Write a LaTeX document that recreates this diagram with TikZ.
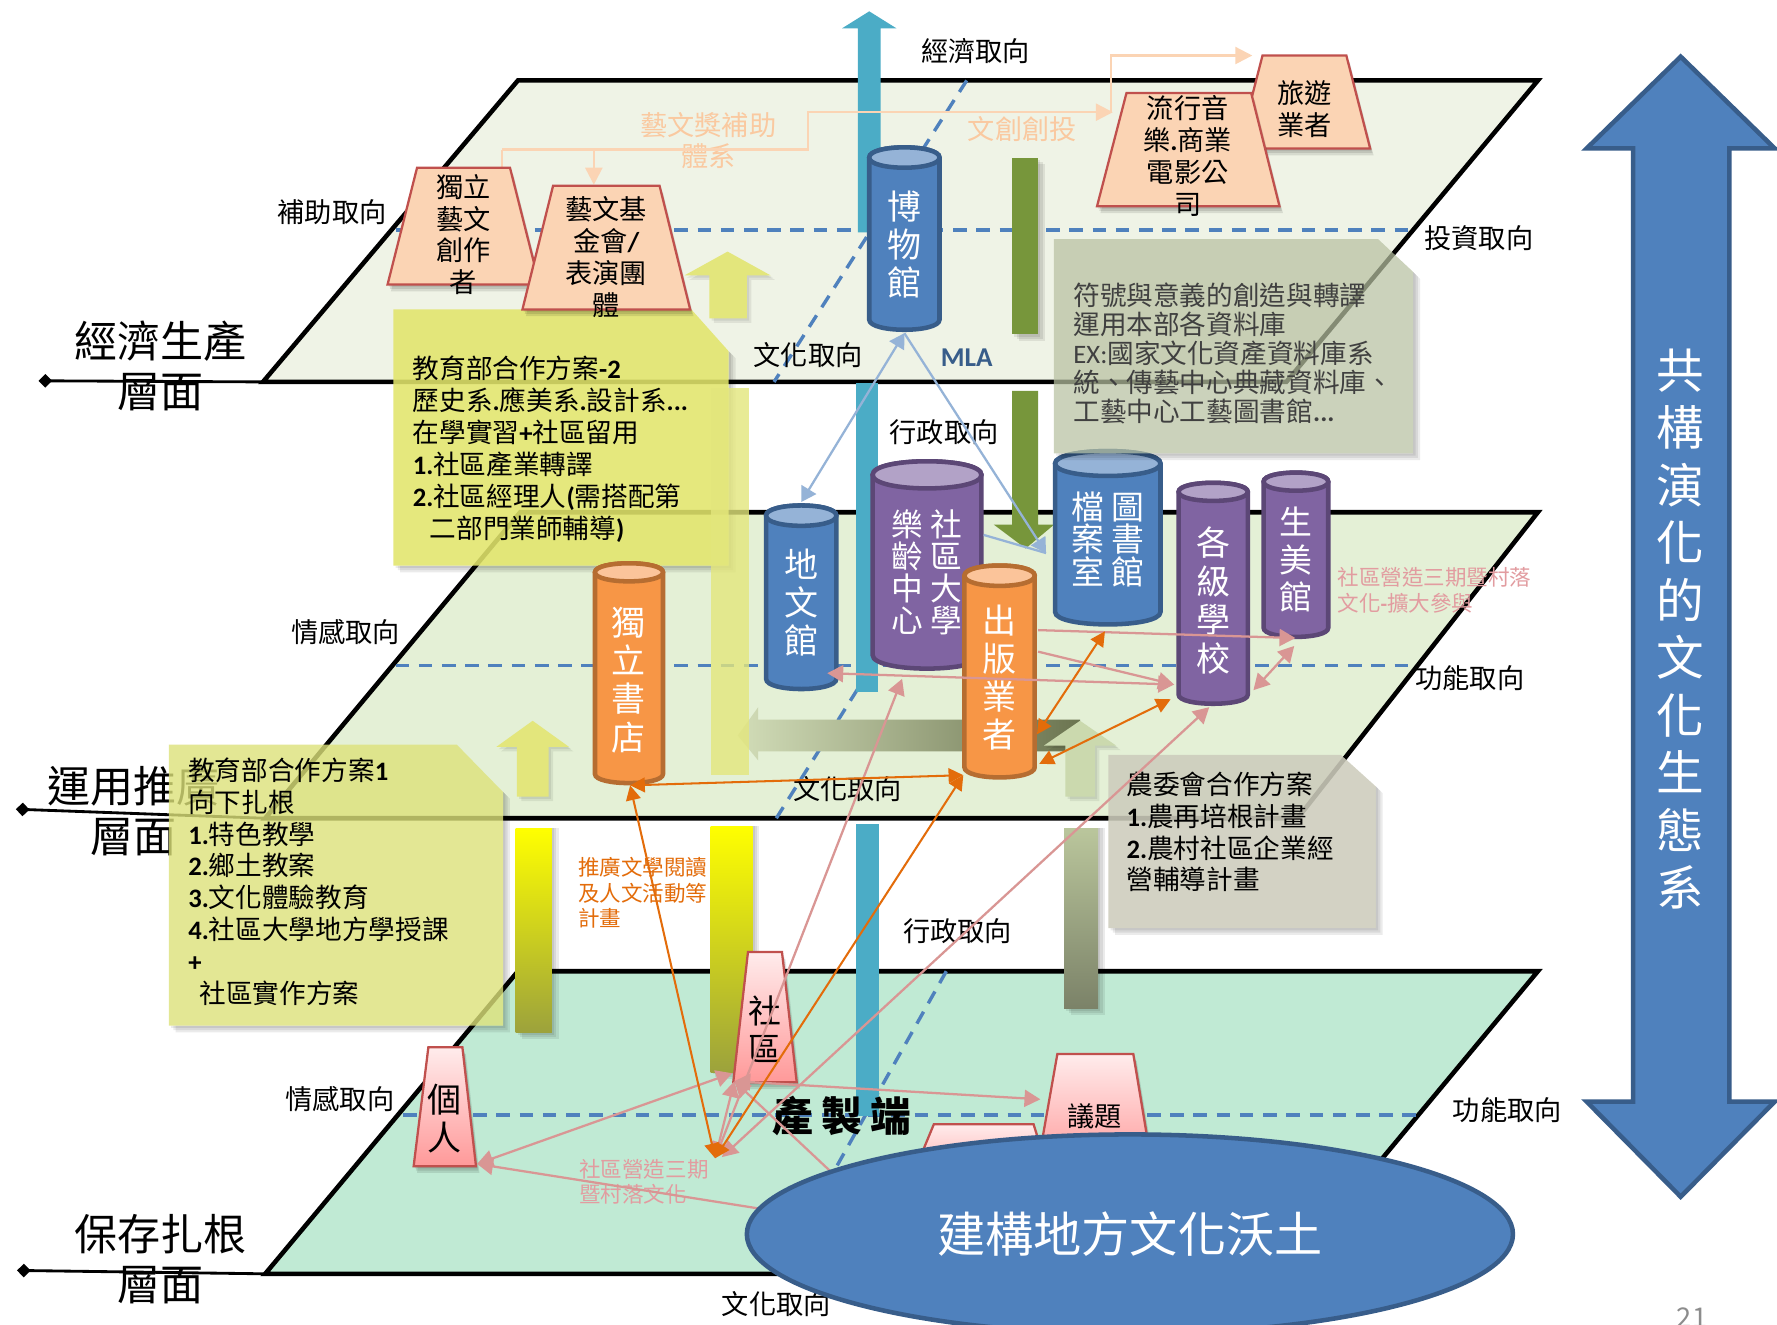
\documentclass[tikz,border=0pt]{standalone}
\usepackage{fontspec}
\setmainfont{Noto Sans CJK TC}
\newfontfamily\carl{Carlito}
\usetikzlibrary{arrows.meta,shapes.geometric}
\definecolor{planeA}{HTML}{EFF3E6}
\definecolor{planeB}{HTML}{E4F0D6}
\definecolor{planeC}{HTML}{C0EAD4}
\definecolor{dashc}{HTML}{4F81BD}
\definecolor{cyanbar}{HTML}{4BACC6}
\definecolor{greenbar}{HTML}{77963B}
\definecolor{cbluef}{HTML}{4F81BD}\definecolor{cblueb}{HTML}{385D8A}\definecolor{cbluet}{HTML}{95B3D7}
\definecolor{cpurf}{HTML}{8064A2}\definecolor{cpurb}{HTML}{5C4776}\definecolor{cpurt}{HTML}{B2A2C7}
\definecolor{corgf}{HTML}{F79646}\definecolor{corgb}{HTML}{B66D31}\definecolor{corgt}{HTML}{FBC49A}
\definecolor{peach}{HTML}{FBD4B4}
\definecolor{redb}{HTML}{C0504D}
\definecolor{pale}{HTML}{FAC9A0}
\definecolor{palel}{HTML}{FBD4B4}
\definecolor{pinkl}{HTML}{D99694}
\definecolor{pinkt}{HTML}{E29CA0}
\definecolor{orgl}{HTML}{E36C0A}
\definecolor{bluel}{HTML}{95B3D7}
\definecolor{noteY}{HTML}{E2E56C}
\definecolor{noteYb}{HTML}{DDE27A}
\definecolor{noteG}{HTML}{B8C1A2}
\definecolor{noteH}{HTML}{CDCCBC}
\definecolor{arrY}{HTML}{E3E67C}
\definecolor{arrG}{HTML}{CBD9AE}
\definecolor{olv}{HTML}{9CA23C}
\definecolor{colmid}{HTML}{F0EC00}
\definecolor{oltop}{HTML}{BAC69C}
\definecolor{olbot}{HTML}{7B8268}
\definecolor{lal}{HTML}{D2DDB8}
\definecolor{lam}{HTML}{B5C49A}
\definecolor{lar}{HTML}{6B7450}
\newcommand\fs[2]{\fontsize{#1}{#2}\selectfont}
\newcommand\lat[1]{{\carl\bfseries #1}}
\tikzset{
  plane/.style={line width=4pt,draw=black,line join=miter},
  guide/.style={draw=dashc,line width=3pt,dash pattern=on 12pt off 8.5pt},
  axislabel/.style={font=\fs{24}{28},text=black,inner sep=0pt,xshift=1pt},
  levellabel/.style={font=\fs{38}{44},align=center,text=black,inner sep=0pt},
  notetext/.style={font=\fs{23.5}{28.2},align=left,anchor=west,inner sep=0pt,text=black},
  trapborder/.style={draw=redb,line width=2pt},
  traptext/.style={font=\fs{24}{28.2},align=center,inner sep=0pt,text=black},
  cyltext/.style={align=center,inner sep=0pt,text=white},
  pinkarrow/.style={draw=pinkl,line width=2pt,{Triangle[width=15pt,length=14pt]}-{Triangle[width=15pt,length=14pt]}},
  pinkhead/.style={draw=pinkl,line width=2pt,-{Triangle[width=15pt,length=14pt]}},
  orgarrow/.style={draw=orgl,line width=1.8pt,{Triangle[width=13pt,length=13pt]}-{Triangle[width=13pt,length=13pt]}},
  bluearrow/.style={draw=bluel,line width=2pt,{Triangle[width=15pt,length=13pt]}-{Triangle[width=15pt,length=13pt]}},
  palearrow/.style={draw=palel,line width=2pt,-{Triangle[width=15pt,length=15pt]}},
  levelline/.style={draw=black,line width=2.5pt,{Diamond[width=12pt,length=12pt]}-},
  columnshade/.style={top color=yellow,middle color=colmid,bottom color=olv},
  pinktrap/.style={draw,top color=white!70!pink,bottom color=red!40!white},
}
% cylinder: name,x1,x2,ytop,ybot,ry,colourprefix,text y,text; font in \cf
\newcommand\cf{}
\newcommand\cyl[9]{%
  \pgfmathsetmacro\kk{1.33*#6}
  \draw[line width=4pt,draw=#7b,fill=#7f]
    (#2+2,#4+2+#6) -- (#2+2,#5-2-#6) .. controls (#2+2,#5-2-#6+\kk) and (#3-2,#5-2-#6+\kk) .. (#3-2,#5-2-#6)
    -- (#3-2,#4+2+#6) .. controls (#3-2,#4+2+#6-\kk) and (#2+2,#4+2+#6-\kk) .. (#2+2,#4+2+#6) -- cycle;
  \draw[line width=4pt,draw=#7b,fill=#7t]
    (#2+2,#4+2+#6) .. controls (#2+2,#4+2+#6-\kk) and (#3-2,#4+2+#6-\kk) .. (#3-2,#4+2+#6)
    .. controls (#3-2,#4+2+#6+\kk) and (#2+2,#4+2+#6+\kk) .. (#2+2,#4+2+#6) -- cycle;
  \node[cyltext,font=\cf] (#1) at ({(#2+#3)/2},#8) {#9};
}
\newcommand\trapz[8]{%
  \foreach \sd in {2,4,6}{\fill[black,opacity=.1,shift={(\sd/2,\sd)}] (#2,#4)--(#3,#4)--(#6,#7)--(#5,#7)--cycle;}
  \path[trapborder,#8] (#2,#4)--(#3,#4)--(#6,#7)--(#5,#7)--cycle;
  \coordinate (#1) at ({(#2+#3)/2},{(#4+#7)/2});
}
\newcommand\notesh[5]{%
  \foreach \sd in {2,4,6}{\fill[black,opacity=.08] (#1+\sd,#4)--(#1+\sd,#4+\sd)--(#3+\sd,#4+\sd)--(#3+\sd,#2+#5+\sd)--(#3,#2+#5)--(#3,#4)--cycle;}
}
\begin{document}
\begin{tikzpicture}[x=1pt,y=-1pt]
\useasboundingbox (0,0) rectangle (1568,1169);
\fill[white] (0,0) rectangle (1568,1169);
% planes
\draw[plane,fill=planeA] (457,71)--(1357,71)--(1135,337)--(232,337)--cycle;
\draw[plane,fill=planeB] (459,452)--(1357,452)--(1145,722)--(234,722)--cycle;
\draw[plane,fill=planeC] (457,857)--(1357,857)--(1135,1124)--(234,1124)--cycle;
% guide lines
\draw[guide] (349,203)--(1246,203);
\draw[guide] (349,587)--(1246,587);
\draw[guide] (356,984)--(1251,984);
\draw[guide] (853,71)--(683,337);
\draw[guide] (855,452)--(685,722);
\draw[guide] (835,857)--(685,1124);
% level lines
\coordinate (lvlA) at (34,336);\coordinate (lvlB) at (14,714);\coordinate (lvlC) at (15,1121);
\coordinate (planeAl) at (232,337);\coordinate (planeBl) at (234,722);\coordinate (planeCl) at (234,1124);
\draw[levelline] (lvlA)--(planeAl);
\draw[levelline] (lvlB)--(planeBl);
\draw[levelline] (lvlC)--(planeCl);
\node[levellabel] (tA) at (142,323) {經濟生產\\層面};
\node[levellabel] (tB) at (118,716) {運用推廣\\層面};
\node[levellabel] (tC) at (142,1111) {保存扎根\\層面};
% axis labels
\node[axislabel] (a1) at (860,45) {經濟取向};
\node[axislabel] (a2) at (292,187) {補助取向};
\node[axislabel] (a3) at (1304,210) {投資取向};
\node[axislabel] (a4) at (712,313) {文化取向};
\node[axislabel] (a5) at (832,381) {行政取向};
\node[axislabel] (a6) at (304,558) {情感取向};
\node[axislabel] (a7) at (1296,598) {功能取向};
\node[axislabel] (a8) at (747,696) {文化取向};
\node[axislabel] (a9) at (844,822) {行政取向};
\node[axislabel] (a10) at (299,970) {情感取向};
\node[axislabel] (a11) at (1329,980) {功能取向};
\node[axislabel] (a12) at (684,1151) {文化取向};
\node[inner sep=0pt,text=cblueb,font=\carl\bfseries\fs{24}{28}] (mla) at (853,316) {MLA};
% cyan arrow pieces
\fill[cyanbar] (743,25)--(767,10)--(791,25)--(777,25)--(777,205)--(757,205)--(757,25)--cycle;
\fill[cyanbar] (755,338) rectangle (775,611);
\fill[cyanbar] (755,727) rectangle (776,985);
% green bar and arrow
\foreach \sd in {2,4,6}{\fill[black,opacity=.08] (893+\sd,139+\sd) rectangle (916+\sd,295+\sd);}
\fill[greenbar] (893,139) rectangle (916,295);
\fill[greenbar] (893,345)--(916,345)--(916,463)--(930,463)--(905,484)--(877,463)--(893,463)--cycle;
% yellow/olive columns
\foreach \sd in {2,4,6}{\fill[black,opacity=.08] (455+\sd,731) rectangle (487+\sd,911+\sd);
 \fill[black,opacity=.08] (627+\sd,729) rectangle (664+\sd,946+\sd);
 \fill[black,opacity=.08] (939+\sd,731) rectangle (969+\sd,890+\sd);}
\shade[columnshade] (455,731) rectangle (487,911);
\shade[columnshade] (627,729) rectangle (664,946);
\shade[top color=oltop,bottom color=olbot] (939,731) rectangle (969,890);
% block arrows
\foreach \sd in {2,4}{\fill[black,opacity=.07,shift={(\sd,\sd)}] (604,243)--(642,222)--(680,243)--(659,243)--(659,281)--(626,281)--(626,243)--cycle;}
\fill[arrY] (604,243)--(642,222)--(680,243)--(659,243)--(659,281)--(626,281)--(626,243)--cycle;
\foreach \sd in {2,4}{\fill[black,opacity=.07,shift={(\sd,\sd)}] (438,659)--(470,636)--(502,659)--(484,659)--(484,703)--(456,703)--(456,659)--cycle;}
\fill[arrY] (438,659)--(470,636)--(502,659)--(484,659)--(484,703)--(456,703)--(456,659)--cycle;
\shade[left color=lal,middle color=lam,right color=lar] (651,649)--(669,624)--(669,635)--(953,635)--(953,663)--(669,663)--(669,671)--cycle;
\foreach \sd in {2,4}{\fill[black,opacity=.07,shift={(\sd,\sd)}] (921,658)--(953,636)--(985,658)--(966,658)--(966,703)--(940,703)--(940,658)--cycle;}
\fill[arrG] (921,658)--(953,636)--(985,658)--(966,658)--(966,703)--(940,703)--(940,658)--cycle;
% yellow notes
\notesh{347}{273}{643}{499}{37}
\fill[noteY,opacity=.88] (347,273)--(610,273)--(643,310)--(643,499)--(347,499)--cycle;
\fill[arrY,opacity=.8] (627,342) rectangle (661,684);
\node[notetext] (n1) at (364,396) {教育部合作方案\lat{-2}\\歷史系\lat{.}應美系\lat{.}設計系\lat{...}\\在學實習\lat{+}社區留用\\\lat{1.}社區產業轉譯\\\lat{2.}社區經理人\lat{(}需搭配第\\\hspace*{15pt}二部門業師輔導\lat{)}};
\notesh{149}{657}{444}{905}{42}
\fill[noteYb,opacity=.8] (149,657)--(403,657)--(444,699)--(444,905)--(149,905)--cycle;
\node[notetext] (n2) at (166,778) {教育部合作方案\lat{1}\\向下扎根\\\lat{1.}特色教學\\\lat{2.}鄉土教案\\\lat{3.}文化體驗教育\\\lat{4.}社區大學地方學授課\\\lat{+}\\\hspace*{10pt}社區實作方案};
% pale texts and lines
\node[font=\fs{24}{28},align=center,text=pale,inner sep=0pt] (p1) at (625,124) {藝文獎補助\\體系};
\node[font=\fs{24}{28},text=pale,inner sep=0pt] (p2) at (902,114) {文創創投};
\coordinate (pA) at (443,163);\coordinate (pB) at (524,163);\coordinate (pC) at (982,99);\coordinate (pD) at (1105,49);
\coordinate (pE) at (443,132);\coordinate (pF) at (524,132);\coordinate (pG) at (713,132);\coordinate (pH) at (713,99);\coordinate (pI) at (980,99);\coordinate (pJ) at (980,49);
\draw[palel,line width=2pt] (pE)--(pG)--(pH)--(pI);
\draw[palearrow] (pE)--(pA);
\draw[palearrow] (pF)--(pB);
\draw[palearrow] (pH)--(pC);
\draw[palearrow] (pI)--(pJ)--(pD);
% upper cylinders
\renewcommand\cf{\fs{30}{33.5}}
\cyl{bowu}{765}{831}{128}{293}{9}{cblue}{216}{博\\物\\館}
\cyl{diwen}{674}{740}{444}{610}{9}{cblue}{532}{地\\文\\館}
\renewcommand\cf{\fs{28}{28.3}}
\cyl{sheda}{768}{868}{405}{592}{12}{cpur}{505}{樂\hspace{6pt}社\\齡\hspace{6pt}區\\中\hspace{6pt}大\\心\hspace{6pt}學}
\renewcommand\cf{\fs{29}{28.5}}
\cyl{dangan}{929}{1026}{396}{553}{11}{cblue}{476}{檔\hspace{6pt}圖\\案\hspace{6pt}書\\室\hspace{6pt}館}
\renewcommand\cf{\fs{30}{34}}
\cyl{geji}{1038}{1103}{424}{623}{8}{cpur}{530}{各\\級\\學\\校}
\renewcommand\cf{\fs{29}{33}}
\cyl{sheng}{1113}{1174}{415}{564}{8}{cpur}{494}{生\\美\\館}
\renewcommand\cf{\fs{30}{33.7}}
\cyl{dushu}{523}{587}{495}{693}{8}{corg}{600}{獨\\立\\書\\店}
\cyl{chuban}{849}{915}{497}{688}{9}{corg}{598}{出\\版\\業\\者}
% grey notes
\notesh{930}{211}{1247}{400}{29}
\fill[noteG,opacity=.72] (930,211)--(1216,211)--(1247,240)--(1247,400)--(930,400)--cycle;
\node[notetext,text=black!75,font=\fs{23.5}{25.6}] (n3) at (947,312) {符號與意義的創造與轉譯\\運用本部各資料庫\\{\carl EX:}國家文化資產資料庫系\\統、傳藝中心典藏資料庫、\\工藝中心工藝圖書館\lat{...}};
\notesh{978}{666}{1214}{819}{28}
\fill[noteH,opacity=.88] (978,666)--(1183,666)--(1214,694)--(1214,819)--(978,819)--cycle;
\node[notetext] (n4) at (994,734) {農委會合作方案\\\lat{1.}農再培根計畫\\\lat{2.}農村社區企業經\\營輔導計畫};
% trapezoids, peach
\trapz{tpZ}{1114}{1188}{49}{1093}{1209}{131}{draw,fill=peach}
\node[traptext] (tp1t) at (1151,96) {旅遊\\業者};
\trapz{tpY}{994}{1104}{82}{968}{1129}{182}{draw,fill=peach}
\node[traptext] (tp2t) at (1048,138) {流行音\\樂\lat{.}商業\\電影公\\司};
\trapz{tpX}{368}{450}{148}{342}{476}{251}{draw,fill=peach}
\node[traptext] (tp3t) at (409,207) {獨立\\藝文\\創作\\者};
\trapz{tpW}{488}{582}{164}{461}{609}{273}{draw,fill=peach}
\node[traptext] (tp4t) at (535,227) {藝文基\\金會\lat{/}\\表演團\\體};
% trapezoids, pink
\trapz{tpA}{378}{408}{924}{365}{420}{1029}{pinktrap}
\node[traptext,font=\fs{30}{34}] (tp5t) at (392,987) {個\\人};
\trapz{tpB}{660}{690}{840}{647}{703}{955}{pinktrap}
\node[traptext,font=\fs{29}{33}] (tp6t) at (675,908) {社\\區};
\trapz{tpC}{824}{912}{992}{800}{930}{1050}{pinktrap}
\trapz{tpD}{933}{1000}{930}{915}{1017}{1032}{pinktrap}
\node[traptext] (tp7t) at (966,985) {議題};
% pink/orange texts
\node[font=\fs{19}{22.5},align=left,text=pinkt,inner sep=0pt,anchor=west] (c1) at (1180,521) {社區營造三期暨村落\\文化\lat{-}擴大參與};
\node[font=\fs{19}{22},align=left,text=pinkt,inner sep=0pt,anchor=west] (c2) at (511,1043) {社區營造三期\\暨村落文化};
\node[font=\fs{19}{22.5},align=left,text=orgl,inner sep=0pt,anchor=west] (c3) at (510,788) {推廣文學閱讀\\及人文活動等\\計畫};
\node[font=\bfseries\fs{36}{40},inner sep=0pt,text=black] (prod) at (743,985) {產\hspace{7pt}製\hspace{7pt}端};
% connector ends
\coordinate (bS) at (798,294);
\coordinate (dN) at (707,443);
\coordinate (dg1) at (923,488);
\coordinate (she1) at (868,472);
\coordinate (dE) at (730,594);
\coordinate (gW) at (1036,604);
\coordinate (cb1) at (916,575);
\coordinate (cb2) at (916,556);
\coordinate (smL) at (1143,563);
\coordinate (smB) at (1142,570);
\coordinate (gR) at (1106,609);
\coordinate (cb3) at (915,648);
\coordinate (dgS) at (975,557);
\coordinate (cb4) at (917,674);
\coordinate (gW2) at (1033,617);
\coordinate (dsB) at (556,693);
\coordinate (cb5) at (850,684);
\coordinate (hub) at (631,1022);
\coordinate (hub2) at (637,1021);
\coordinate (grA) at (421,1027);
\coordinate (sqA) at (646,947);
\coordinate (sqB) at (648,954);
\coordinate (yiW) at (918,970);
\coordinate (lyS) at (796,599);
\coordinate (gS) at (1067,624);
\coordinate (elA) at (680,1068);
\coordinate (elB) at (745,1045);
% connectors
\draw[bluearrow] (bS)--(dN);
\draw[draw=bluel,line width=2pt,-{Triangle[width=15pt,length=13pt]}] (bS)--(dg1);
\draw[draw=bluel,line width=2pt] (she1)--(dg1);
\draw[pinkarrow] (dE)--(gW);
\draw[pinkhead] (cb1)--(gW);
\draw[pinkhead] (cb2)--(smL);
\draw[pinkarrow] (smB)--(gR);
\draw[pinkarrow] (grA)--(sqA);
\draw[pinkhead] (elA)--(grA);
\draw[pinkarrow] (sqB)--(yiW);
\draw[pinkarrow] (sqB)--(hub);
\draw[pinkarrow] (hub)--(lyS);
\draw[pinkarrow] (hub2)--(gS);
\draw[pinkhead] (elB)--(sqB);
\draw[orgarrow] (dsB)--(cb5);
\draw[orgarrow] (dsB)--(hub);
\draw[orgarrow] (cb5)--(hub);
\draw[orgarrow] (cb3)--(dgS);
\draw[orgarrow] (cb4)--(gW2);
% ellipse
\node[ellipse,draw=cblueb,fill=cbluef,line width=4pt,minimum width=676pt,minimum height=176pt,inner sep=0pt,text=white,font=\fs{42.5}{46}] (soil) at (997,1089) {建構地方文化沃土};
% big arrow
\draw[draw=cblueb,fill=cbluef,line width=4pt,line join=miter] (1483,50)--(1566,131)--(1526,131)--(1526,972)--(1566,972)--(1483,1056)--(1400,972)--(1441,972)--(1441,131)--(1400,131)--cycle;
\node[font=\fs{42}{50.7},align=center,text=white,inner sep=0pt] (bigt) at (1483,555) {共\\構\\演\\化\\的\\文\\化\\生\\態\\系};
\node[font=\fs{24}{24},text=black!45,inner sep=0pt,anchor=base] (pg) at (1493,1171) {21};
\end{tikzpicture}
\end{document}
